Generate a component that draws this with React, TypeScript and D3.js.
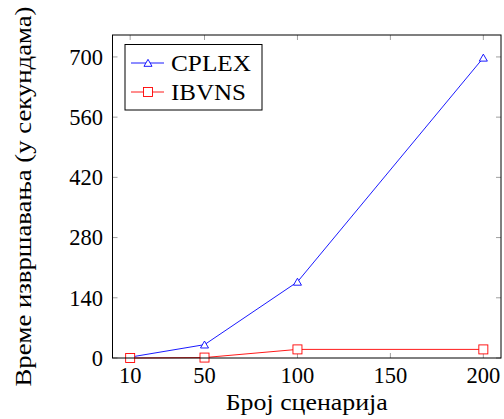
import React from 'react';
import * as d3 from 'd3';

const scenarios = [10, 50, 100, 200];
const cplexTimes = [2, 31, 177, 698];
const ibvnsTimes = [0, 1, 20, 20];
const xTicks = [10, 50, 100, 150, 200];
const yTicks = [0, 140, 280, 420, 560, 700];

const left = 112.5, right = 501, top = 35, bottom = 358;
const FONT = 'Liberation Serif';
const FS = 22.5;

const x = d3.scaleLinear().domain([0.5, 209.5]).range([left, right]);
const y = d3.scaleLinear().domain([0, 751]).range([bottom, top]);
const line = d3.line<[number, number]>().x(d => x(d[0])).y(d => y(d[1]));
const triPath = d3.symbol().type(d3.symbolTriangle).size(28)() as string;

const series = [
  { name: 'CPLEX', values: cplexTimes, color: '#0000ff', marker: 'tri', w: 80 },
  { name: 'IBVNS', values: ibvnsTimes, color: '#ff0000', marker: 'sq', w: 75 },
];

const T = (props: any) => <text fontFamily={FONT} fontSize={FS} fill="black" {...props} />;

const Marker = ({ cx, cy, s }: { cx: number; cy: number; s: any }) =>
  s.marker === 'tri' ? (
    <path d={triPath} transform={`translate(${cx},${cy + 1})`} fill="white" stroke={s.color} strokeWidth={0.9} />
  ) : (
    <rect x={cx - 4.5} y={cy - 4.5} width={9} height={9} fill="white" stroke={s.color} strokeWidth={0.9} />
  );

const App = () => (
  <svg width={504} height={419}
    style={{ position: 'absolute', left: 0, top: 0, background: 'white' }}>
    {/* ticks, inside on all sides */}
    {xTicks.map(t => (
      <g key={'x' + t}>
        <line x1={x(t)} x2={x(t)} y1={bottom} y2={bottom - 5} stroke="#888" strokeWidth={0.8} />
        <line x1={x(t)} x2={x(t)} y1={top} y2={top + 5} stroke="#888" strokeWidth={0.8} />
        <T x={x(t)} y={383} textAnchor="middle">{t}</T>
      </g>
    ))}
    {yTicks.map(t => (
      <g key={'y' + t}>
        <line x1={left} x2={left + 5} y1={y(t)} y2={y(t)} stroke="#888" strokeWidth={0.8} />
        <line x1={right} x2={right - 5} y1={y(t)} y2={y(t)} stroke="#888" strokeWidth={0.8} />
        <T x={103} y={y(t)} dy="0.35em" textAnchor="end">{t}</T>
      </g>
    ))}

    {series.map(s => {
      const pts = scenarios.map((sc, i) => [sc, s.values[i]] as [number, number]);
      return (
        <g key={s.name}>
          <path d={line(pts) as string} fill="none" stroke={s.color} strokeWidth={0.9} />
          {pts.map(p => <Marker key={p[0]} cx={x(p[0])} cy={y(p[1])} s={s} />)}
        </g>
      );
    })}

    <rect x={left} y={top} width={right - left} height={bottom - top} fill="none" stroke="black" strokeWidth={1} />

    {/* legend */}
    <rect x={125} y={44.5} width={137} height={65.5} fill="white" stroke="black" strokeWidth={1} />
    {series.map((s, i) => {
      const ly = 63 + i * 29;
      return (
        <g key={'lg' + s.name}>
          <line x1={131} x2={164} y1={ly} y2={ly} stroke={s.color} strokeWidth={0.9} />
          <Marker cx={148} cy={ly} s={s} />
          <T x={171} y={ly} dy="0.35em" textLength={s.w} lengthAdjust="spacingAndGlyphs">{s.name}</T>
        </g>
      );
    })}

    <T x={(left + right) / 2} y={410} textAnchor="middle" textLength={162} lengthAdjust="spacingAndGlyphs">
      Број сценарија
    </T>
    <T transform={`translate(31,${(top + bottom) / 2}) rotate(-90)`} textAnchor="middle"
      textLength={380} lengthAdjust="spacingAndGlyphs">
      Време извршавања (у секундама)
    </T>
  </svg>
);

export default App;
